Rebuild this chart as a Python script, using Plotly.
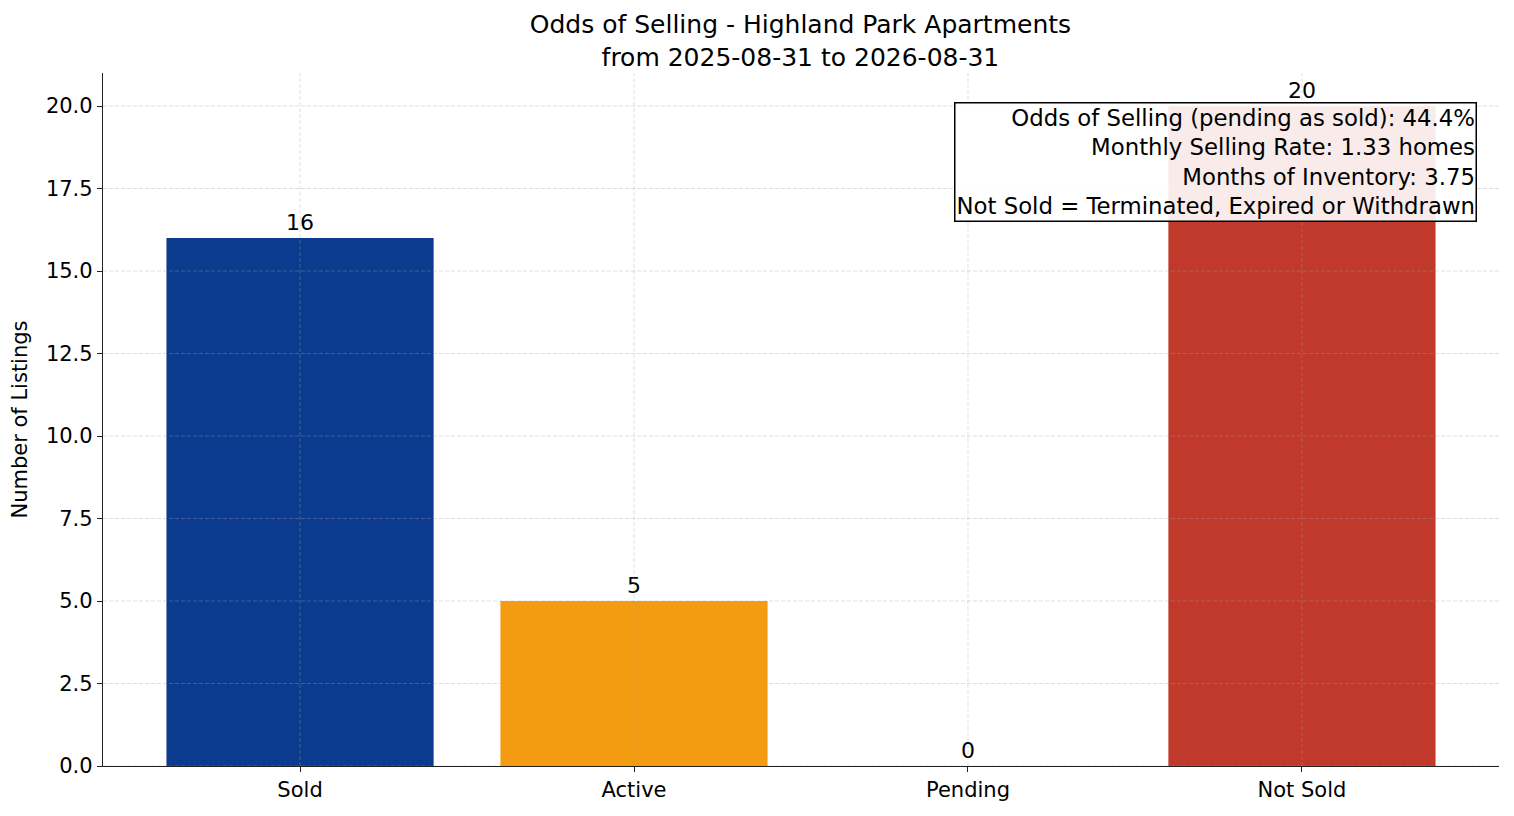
import plotly.graph_objects as go

categories = ["Sold", "Active", "Pending", "Not Sold"]
counts = [16, 5, 0, 20]
bar_colors = ["#0b3b8f", "#f39c12", "#7f8c8d", "#c0392b"]
y_ticks = [0.0, 2.5, 5.0, 7.5, 10.0, 12.5, 15.0, 17.5, 20.0]
info_lines = [
    "Odds of Selling (pending as sold): 44.4%",
    "Monthly Selling Rate: 1.33 homes",
    "Months of Inventory: 3.75",
    "Not Sold = Terminated, Expired or Withdrawn",
]

font = "DejaVu Sans, Arial, sans-serif"

fig = go.Figure()
fig.add_trace(go.Bar(
    x=categories, y=counts, marker_color=bar_colors, marker_line_width=0,
    width=0.8, text=[str(c) for c in counts], textposition="outside",
    textfont=dict(size=22, color="black", family=font), cliponaxis=False,
))

# matplotlib draws the dashed grid on top of the bars
grid = dict(color="rgba(165,165,165,0.45)", width=0.8, dash="4px,2px")
for c in categories:
    fig.add_shape(type="line", xref="x", yref="paper", x0=c, x1=c, y0=0, y1=1,
                  line=grid, layer="above")
for t in y_ticks:
    fig.add_shape(type="line", xref="paper", yref="y", x0=0, x1=1, y0=t, y1=t,
                  line=grid, layer="above")

fig.add_annotation(
    text="<br>".join(info_lines), xref="paper", yref="paper", x=0.984, y=0.958,
    xanchor="right", yanchor="top", align="right", showarrow=False,
    font=dict(size=22.8, color="black", family=font),
    bgcolor="rgba(255,255,255,0.9)", bordercolor="black", borderwidth=1.5, borderpad=1,
)

fig.update_layout(
    width=1498, height=800, plot_bgcolor="white", paper_bgcolor="white",
    margin=dict(l=95, r=7, t=65, b=42), showlegend=False,
    font=dict(family=font, size=21, color="black"),
    title=dict(text="Odds of Selling - Highland Park Apartments<br>from 2025-08-31 to 2026-08-31",
               x=0.529, xanchor="center", yref="paper", y=1, yanchor="bottom",
               pad=dict(b=40), font=dict(size=25, family=font)),
)
fig.update_xaxes(range=[-0.59, 3.59], showgrid=False, showline=True, linecolor="#222",
                 linewidth=1.3, ticks="outside", ticklen=5, tickcolor="#222",
                 tickfont=dict(size=21))
fig.update_yaxes(range=[0, 21], tickvals=y_ticks, ticktext=[f"{t:.1f}" for t in y_ticks],
                 showgrid=False, zeroline=False, showline=True, linecolor="#222",
                 linewidth=1.3, ticks="outside", ticklen=5, tickcolor="#222",
                 tickfont=dict(size=21), title=dict(text="Number of Listings", standoff=15,
                 font=dict(size=21)))

fig.write_html("out.html")
